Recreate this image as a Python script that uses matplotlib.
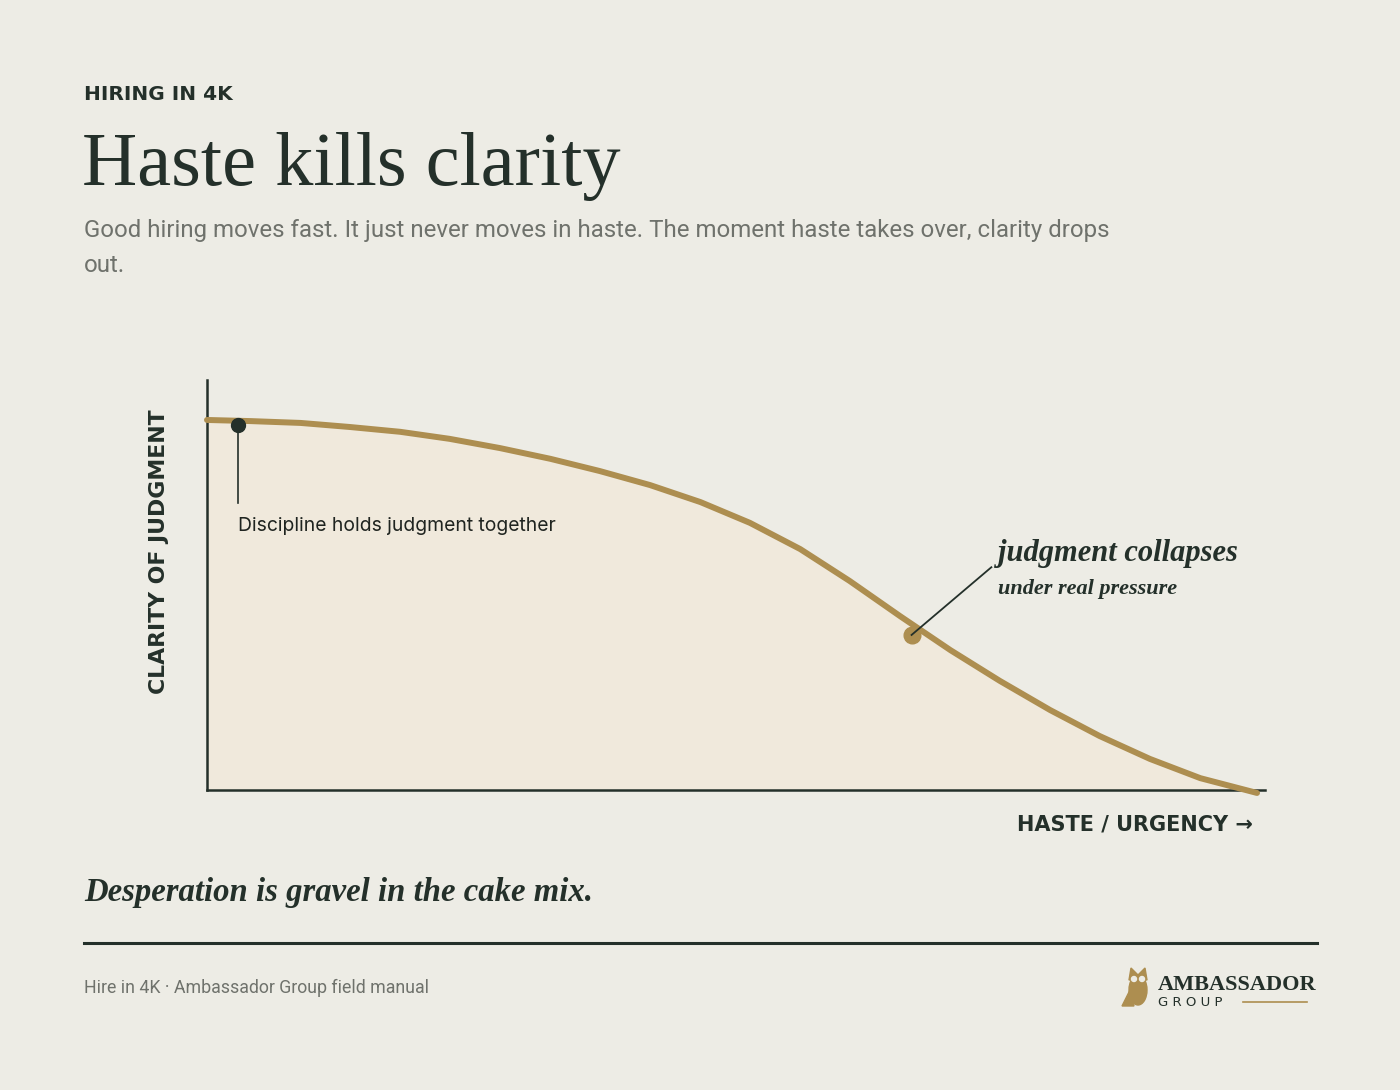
import numpy as np
import matplotlib.pyplot as plt
from matplotlib.patches import Ellipse, Polygon

# Curve (haste 0-100, clarity 0-100)
haste = [0, 4.1, 8.9, 13.6, 18.4, 23.1, 27.9, 32.7, 37.4, 42.2, 47.0, 51.7, 56.5, 61.2,
         66.0, 70.8, 75.5, 80.3, 85.0, 89.8, 94.6, 100]
clarity = [100, 99.7, 99.2, 98.1, 96.8, 94.9, 92.4, 89.5, 86.2, 82.4, 77.8, 72.2, 65.1, 56.5,
           47.0, 37.8, 29.5, 21.6, 14.6, 8.4, 3.2, -0.8]

calm_point = (2.95, 98.6)
collapse_point = (67.1, 41.9)

kicker = "HIRING IN 4K"
title = "Haste kills clarity"
subtitle = ("Good hiring moves fast. It just never moves in haste. The moment haste takes over, clarity drops\n"
            "out.")
calm_note = "Discipline holds judgment together"
collapse_note = "judgment collapses"
collapse_sub = "under real pressure"
x_label = "HASTE / URGENCY \u2192"
y_label = "CLARITY OF JUDGMENT"
quote = "Desperation is gravel in the cake mix."
footer = "Hire in 4K \u00b7 Ambassador Group field manual"

BG = "#EDECE5"
FILL = "#F0E9DC"
GOLD = "#AD8E50"
DARK = "#24302A"
GREY = "#6F726C"

W, H = 1400, 1090
fig = plt.figure(figsize=(W / 100, H / 100), dpi=100)
fig.patch.set_facecolor(BG)


def px(x, y):
    return x / W, 1 - y / H


def ftext(x, y, s, **kw):
    fx, fy = px(x, y)
    return fig.text(fx, fy, s, **kw)


# chart area
ax = fig.add_axes([207 / W, 1 - 790 / H, (1265 - 207) / W, (790 - 380) / H])
ax.set_facecolor("none")
ax.set_xlim(0, 100.76)
ax.set_ylim(0, 110.8)
for s in ["top", "right"]:
    ax.spines[s].set_visible(False)
for s in ["left", "bottom"]:
    ax.spines[s].set_color(DARK)
    ax.spines[s].set_linewidth(1.8)
ax.set_xticks([])
ax.set_yticks([])

ax.fill_between(haste, clarity, 0, color=FILL, lw=0, zorder=1)
ax.plot(haste, clarity, color=GOLD, lw=4.3, solid_capstyle="round", solid_joinstyle="round",
        clip_on=False, zorder=3)

# calm annotation
ax.plot([calm_point[0], calm_point[0]], [calm_point[1] - 2, 77.5], color=DARK, lw=1.2, zorder=2)
ax.plot(*calm_point, "o", color=DARK, ms=10, zorder=4)
ax.text(calm_point[0], 71.3, calm_note, fontsize=13.9, family="Inter", color="#1F2420",
        va="center", ha="left")

# collapse annotation
ax.plot(*collapse_point, "o", color=GOLD, ms=12, zorder=4)
ax.plot([collapse_point[0], 74.7], [collapse_point[1], 60.2], color=DARK, lw=1.3, zorder=5)
ftext(998, 553, collapse_note, fontsize=22, family="Liberation Serif", style="italic",
      weight="bold", color=DARK, va="center", ha="left")
ftext(998, 589, collapse_sub, fontsize=16, family="Liberation Serif", style="italic",
      weight="bold", color=DARK, va="center", ha="left")

# axis labels
ftext(1253, 825, x_label, fontsize=15, family="DejaVu Sans", weight="bold", color=DARK,
      va="center", ha="right")
ftext(159, 552, y_label, fontsize=15.8, family="DejaVu Sans", weight="bold", color=DARK,
      va="center", ha="center", rotation=90)

# header
ftext(84, 95, kicker, fontsize=14.5, family="DejaVu Sans", weight="bold", color=DARK,
      va="center", ha="left")
ftext(82, 166, title, fontsize=55, family="Liberation Serif", color=DARK, va="center", ha="left")
ftext(84, 248, subtitle, fontsize=17.3, family="Roboto", color=GREY, va="center", ha="left",
      linespacing=1.7)

# quote, rule, footer
ftext(84, 892, quote, fontsize=23.6, family="Liberation Serif", style="italic", weight="bold",
      color=DARK, va="center", ha="left")
fig.add_artist(plt.Line2D([84 / W, 1317 / W], [1 - 943 / H, 1 - 943 / H], color=DARK, lw=2.2))
ftext(84, 988, footer, fontsize=12.8, family="Roboto", color=GREY, va="center", ha="left")

# logo
ftext(1158, 985, "AMBASSADOR", fontsize=16, family="Liberation Serif", weight="bold", color=DARK,
      va="center", ha="left")
ftext(1158, 1003, "G R O U P", fontsize=9.5, family="DejaVu Sans", color=DARK, va="center", ha="left")
fig.add_artist(plt.Line2D([1243 / W, 1307 / W], [1 - 1002 / H, 1 - 1002 / H], color=GOLD, lw=1.2))
bx, by = px(1138, 990)
fig.add_artist(Ellipse((bx, by), 18 / W, 30 / H, color=GOLD, transform=fig.transFigure))
fig.add_artist(Polygon([px(1129, 980), px(1131, 968), px(1138, 975), px(1145, 968), px(1147, 980)],
                       closed=True, color=GOLD, transform=fig.transFigure))
fig.add_artist(Polygon([px(1122, 1006), px(1130, 990), px(1134, 1006)], closed=True, color=GOLD,
                       transform=fig.transFigure))
for ex in (1134, 1142):
    ex_, ey_ = px(ex, 979)
    fig.add_artist(Ellipse((ex_, ey_), 5 / W, 5 / H, color=BG, transform=fig.transFigure))

fig.savefig("out.png", dpi=100, facecolor=BG)
